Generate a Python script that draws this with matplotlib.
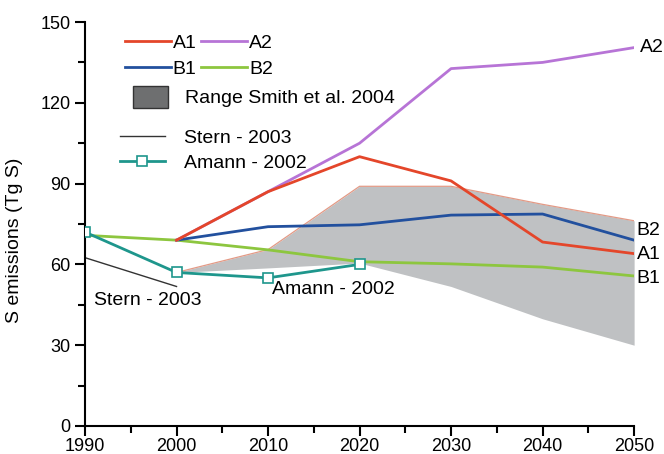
import numpy as np
import matplotlib.pyplot as plt
from matplotlib.lines import Line2D
from matplotlib.patches import Patch

plt.rcParams['font.family'] = ['Liberation Sans', 'DejaVu Sans']

# scenario years and emissions (Tg S)
years = [2000, 2010, 2020, 2030, 2040, 2050]
a1 = [69, 87, 100, 91, 68.3, 64]
a2 = [69, 87, 105, 132.7, 135, 140.5]
b1 = [69, 74, 74.7, 78.3, 78.7, 69]
b2_years = [1990, 2000, 2010, 2020, 2030, 2040, 2050]
b2 = [70.8, 69, 65.4, 61, 60.2, 59, 55.7]

# Smith et al. 2004 range
range_years = [2000, 2010, 2020, 2030, 2040, 2050]
range_low = [57, 58.7, 60.5, 51.8, 39.8, 30]
range_high = [57, 65.5, 89, 89, 82.3, 76.2]

# other estimates
amann_years = [1990, 2000, 2010, 2020]
amann = [72, 57, 55, 60]
stern_years = [1990, 2000]
stern = [62.5, 51.8]

c_a1 = '#e4462a'
c_a2 = '#b774d6'
c_b1 = '#22509e'
c_b2 = '#8dc63f'
c_amann = '#1e968c'
c_fill = '#bfc1c3'
fs = 14

fig = plt.figure(figsize=(6.64, 4.54), dpi=100)
ax = fig.add_axes([0.128, 0.0617, 0.827, 0.8898])

ax.fill_between(range_years, range_low, range_high, color=c_fill, lw=0, zorder=1)
ax.plot(range_years, range_high, color='#e39a86', lw=0.9, zorder=1.5)

ax.plot(stern_years, stern, color='#333333', lw=1.0, zorder=2)
ax.plot(amann_years, amann, color=c_amann, lw=2, marker='s', ms=7,
        mfc='white', mec=c_amann, mew=1.2, zorder=4)
ax.plot(b2_years, b2, color=c_b2, lw=2, zorder=3)
ax.plot(years, b1, color=c_b1, lw=2, zorder=3)
ax.plot(years, a2, color=c_a2, lw=2, zorder=3)
ax.plot(years, a1, color=c_a1, lw=2, zorder=3)

ax.set_xlim(1990, 2050)
ax.set_ylim(0, 150)
ax.set_xticks(np.arange(1990, 2051, 10))
ax.set_xticks(np.arange(1995, 2050, 10), minor=True)
ax.set_yticks(np.arange(0, 151, 30))
ax.set_yticks(np.arange(15, 150, 30), minor=True)
ax.tick_params(which='major', length=7, width=1.5, labelsize=13)
ax.tick_params(axis='x', which='major', pad=2)
ax.tick_params(which='minor', length=5, width=1.5)
for s in ['top', 'right']:
    ax.spines[s].set_visible(False)
for s in ['left', 'bottom']:
    ax.spines[s].set_linewidth(1.5)
ax.set_ylabel('S emissions (Tg S)', fontsize=fs)
ax.yaxis.set_label_coords(-0.112, 0.46)

# end-of-line labels
ax.text(2050.6, a2[-1], 'A2', fontsize=fs, va='center', ha='left')
ax.text(2050.3, b1[-1] + 3.5, 'B2', fontsize=fs, va='center', ha='left')
ax.text(2050.3, a1[-1] - 0.5, 'A1', fontsize=fs, va='center', ha='left')
ax.text(2050.3, b2[-1] - 0.8, 'B1', fontsize=fs, va='center', ha='left')
ax.text(1991.0, 46.5, 'Stern - 2003', fontsize=fs, va='center', ha='left')
ax.text(2010.4, 50.5, 'Amann - 2002', fontsize=fs, va='center', ha='left')

# legends
h1 = [Line2D([], [], color=c_a1, lw=2), Line2D([], [], color=c_b1, lw=2),
      Line2D([], [], color=c_a2, lw=2), Line2D([], [], color=c_b2, lw=2)]
leg1 = ax.legend(h1, ['A1', 'B1', 'A2', 'B2'], ncol=2, frameon=False,
                 fontsize=fs, loc='upper left', bbox_to_anchor=(0.073, 0.97),
                 borderpad=0, borderaxespad=0, handlelength=2.35,
                 handletextpad=0.1, columnspacing=0.25, labelspacing=0.45)
ax.add_artist(leg1)
h2 = [Patch(facecolor='#6e6f70', edgecolor='#333333')]
leg2 = ax.legend(h2, ['Range Smith et al. 2004'], frameon=False, fontsize=fs,
                 loc='upper left', bbox_to_anchor=(0.087, 0.842), borderpad=0,
                 borderaxespad=0, handlelength=1.8, handleheight=1.35,
                 handletextpad=0.88)
ax.add_artist(leg2)
h3 = [Line2D([], [], color='#333333', lw=1.0),
      Line2D([], [], color=c_amann, lw=2, marker='s', ms=7, mfc='white',
             mec=c_amann, mew=1.2)]
ax.legend(h3, ['Stern - 2003', 'Amann - 2002'], frameon=False, fontsize=fs,
          loc='upper left', bbox_to_anchor=(0.064, 0.735), borderpad=0,
          borderaxespad=0, handlelength=2.3, handletextpad=1.0,
          labelspacing=0.40)

fig.savefig('out.png', dpi=100)
